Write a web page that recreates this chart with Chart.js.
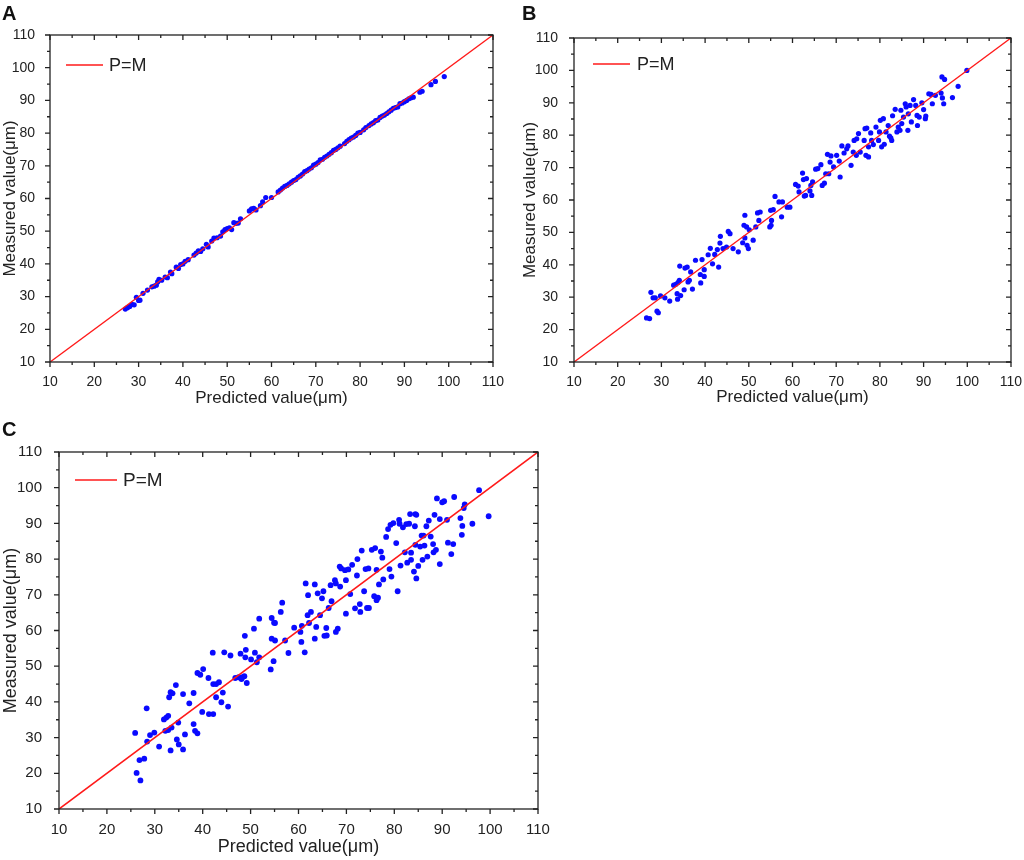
<!DOCTYPE html>
<html>
<head>
<meta charset="utf-8">
<script src="https://cdn.jsdelivr.net/npm/chart.js@4.4.1/dist/chart.umd.min.js"></script>
<style>
  html, body { margin: 0; padding: 0; background: #fff; }
  #wrap { position: relative; width: 1024px; height: 860px; overflow: hidden; }
  canvas { position: absolute; left: 0; top: 0; }
  .tag { position: absolute; font: bold 20px "Liberation Sans", Arial, sans-serif; line-height: 1; color: #111; }
</style>
</head>
<body>
<div id="wrap">
  <canvas id="chartA"></canvas>
  <canvas id="chartB"></canvas>
  <canvas id="chartC"></canvas>
  <div class="tag" style="left:2px;top:3px">A</div>
  <div class="tag" style="left:522px;top:3px">B</div>
  <div class="tag" style="left:2px;top:419px">C</div>
</div>
<script>
// shared axis ticks and the P=M reference line
const tickValues = [10, 20, 30, 40, 50, 60, 70, 80, 90, 100, 110];
const refLineX = [10, 110];
const refLineY = [10, 110];

// panel A
const predictedA = [27.0, 27.5, 28.0, 28.5, 29.0, 29.5, 30.0, 30.3, 31.0, 32.0, 33.0, 33.5, 34.0, 34.3, 34.6, 35.2, 36.0, 36.5, 37.2, 37.5,
  38.5, 39.0, 39.5, 40.0, 40.5, 41.2, 42.5, 43.0, 43.5, 44.0, 44.5, 45.3, 45.7, 46.5, 47.0, 47.7, 48.5, 49.0, 49.5, 50.0,
  50.5, 51.0, 51.5, 52.0, 52.5, 53.0, 55.0, 55.5, 56.0, 56.5, 57.5, 58.0, 58.7, 60.0, 61.5, 62.0, 62.5, 63.0, 63.5, 64.0,
  64.5, 65.0, 65.5, 66.0, 66.5, 67.0, 67.5, 68.0, 68.5, 69.0, 69.5, 70.0, 70.5, 71.0, 71.5, 72.0, 72.5, 73.0, 73.5, 74.0,
  74.5, 75.0, 75.5, 76.5, 77.0, 77.5, 78.0, 78.5, 79.0, 79.5, 80.0, 80.8, 81.3, 82.0, 82.5, 83.0, 83.5, 84.0, 84.5, 85.0,
  85.5, 86.0, 86.5, 87.0, 87.5, 88.0, 88.5, 89.0, 89.5, 90.0, 90.5, 91.0, 91.5, 92.0, 93.5, 94.0, 96.0, 97.0, 99.0];
const measuredA = [26.2, 26.6, 27.0, 27.6, 27.5, 29.8, 28.8, 28.9, 31.0, 32.0, 33.0, 33.2, 33.5, 34.5, 35.3, 35.0, 36.0, 35.8, 37.5, 37.0,
  39.0, 38.6, 39.8, 40.0, 40.8, 41.3, 42.7, 43.3, 44.0, 43.8, 44.6, 46.0, 45.2, 47.0, 47.9, 48.0, 48.5, 49.8, 50.5, 50.8,
  51.0, 50.5, 52.6, 52.4, 52.5, 53.8, 56.2, 56.8, 57.0, 56.5, 57.8, 59.0, 60.3, 60.3, 62.0, 62.6, 63.2, 63.7, 64.0, 64.5,
  65.0, 65.5, 65.8, 66.5, 66.9, 67.5, 68.2, 68.5, 69.0, 69.4, 70.2, 70.5, 71.0, 71.8, 72.0, 72.6, 73.0, 73.5, 74.0, 74.7,
  75.0, 75.5, 76.0, 76.8, 77.5, 78.0, 78.5, 78.8, 79.3, 80.0, 80.2, 81.0, 81.7, 82.3, 82.8, 83.2, 83.8, 84.0, 84.8, 85.2,
  85.5, 86.0, 86.5, 87.0, 87.6, 87.8, 88.0, 89.0, 89.2, 89.6, 90.0, 90.5, 90.8, 91.0, 92.5, 92.8, 94.8, 95.8, 97.3];

// panel B
const predictedB = [26.6, 27.3, 27.6, 28.1, 28.6, 29.0, 29.3, 29.8, 30.8, 31.9, 32.8, 33.3, 33.6, 33.7, 34.1, 33.8, 34.2, 34.4, 35.2, 35.4,
  35.9, 36.1, 36.4, 36.7, 37.1, 37.8, 38.9, 39.0, 39.3, 39.8, 39.8, 40.7, 41.2, 41.7, 42.2, 42.8, 43.1, 43.4, 43.5, 44.1,
  44.9, 45.3, 45.7, 46.4, 47.6, 48.6, 48.9, 49.1, 49.1, 49.5, 49.6, 49.9, 50.1, 51.0, 51.6, 52.0, 52.6, 52.3, 54.8, 55.1,
  55.0, 55.6, 55.2, 56.0, 56.9, 57.7, 57.5, 58.8, 59.4, 60.7, 61.3, 61.5, 62.3, 62.5, 62.7, 63.0, 63.2, 64.0, 64.2, 64.4,
  64.6, 65.3, 65.8, 66.5, 66.8, 67.3, 67.6, 68.0, 68.6, 68.8, 68.3, 69.4, 70.1, 70.7, 70.9, 71.3, 71.8, 72.4, 72.7, 73.4,
  73.9, 74.1, 74.7, 74.6, 75.1, 75.5, 76.4, 76.6, 77.0, 76.8, 77.4, 77.4, 77.9, 78.1, 78.5, 79.1, 79.7, 80.1, 79.9, 80.4,
  80.8, 81.0, 81.4, 81.9, 82.2, 82.5, 82.7, 82.9, 83.5, 83.9, 84.2, 84.6, 84.8, 85.0, 85.4, 85.8, 86.0, 86.4, 86.5, 86.9,
  87.2, 87.7, 88.2, 88.6, 88.5, 89.0, 89.6, 90.0, 90.4, 90.5, 91.2, 91.7, 92.0, 92.7, 94.0, 94.2, 94.8, 94.3, 94.6, 96.6,
  97.9, 99.9];
const measuredB = [23.6, 23.4, 31.5, 29.8, 29.8, 25.7, 25.2, 30.4, 29.8, 28.8, 33.7, 34.0, 31.1, 29.4, 35.2, 34.5, 39.6, 30.5, 32.3, 39.0,
  39.3, 34.7, 35.2, 37.8, 32.5, 41.4, 37.0, 34.4, 41.6, 38.5, 36.4, 43.1, 45.1, 40.3, 43.2, 44.7, 39.3, 46.7, 48.8, 45.0,
  45.5, 50.3, 49.6, 45.0, 44.0, 46.8, 52.2, 55.3, 48.3, 51.7, 46.0, 45.0, 50.8, 47.6, 51.7, 56.0, 56.3, 53.7, 51.7, 52.2,
  56.8, 57.0, 53.7, 61.1, 59.4, 59.4, 54.8, 57.8, 57.8, 64.8, 64.3, 62.5, 68.3, 66.3, 61.2, 61.4, 66.6, 62.8, 64.5, 61.4,
  65.6, 69.5, 69.7, 70.9, 64.5, 65.2, 68.1, 74.1, 71.7, 73.6, 68.1, 70.2, 73.8, 72.0, 67.1, 76.7, 74.5, 75.8, 76.7, 70.7,
  74.8, 78.4, 78.9, 73.8, 80.5, 74.8, 78.4, 82.0, 82.2, 73.8, 73.3, 76.4, 80.7, 78.4, 77.1, 82.5, 78.4, 84.6, 81.0, 76.4,
  85.1, 77.2, 81.0, 83.0, 79.7, 79.2, 78.4, 86.0, 88.0, 81.0, 82.5, 81.5, 87.7, 83.6, 85.6, 89.7, 88.7, 81.5, 86.6, 89.2,
  84.1, 91.0, 89.2, 83.0, 86.1, 85.6, 90.0, 87.9, 85.1, 85.9, 92.8, 92.6, 89.7, 92.3, 93.0, 98.0, 97.2, 91.5, 89.7, 91.6,
  95.1, 100.0];

// panel C
const predictedC = [25.9, 26.2, 26.8, 27.0, 27.8, 28.3, 28.4, 29.0, 29.9, 30.9, 31.9, 32.4, 32.8, 32.2, 32.8, 33.0, 33.3, 33.7, 33.3, 33.5,
  34.4, 34.6, 34.9, 35.0, 35.9, 35.9, 36.3, 37.2, 38.1, 38.1, 38.4, 38.9, 38.9, 39.5, 39.9, 40.1, 41.2, 41.3, 42.1, 42.2,
  42.2, 42.8, 42.8, 43.4, 43.9, 44.2, 44.5, 45.3, 45.8, 46.8, 47.5, 47.9, 48.3, 48.7, 48.1, 48.8, 48.9, 49.0, 49.2, 50.1,
  50.7, 50.9, 51.3, 51.8, 51.8, 54.2, 54.4, 54.4, 54.8, 54.9, 55.1, 55.1, 56.3, 56.6, 57.2, 57.9, 59.1, 60.4, 60.6, 60.7,
  61.3, 61.5, 61.9, 62.0, 62.2, 62.6, 63.4, 63.4, 63.7, 64.0, 64.5, 64.9, 65.2, 65.4, 65.8, 65.9, 66.3, 66.7, 66.9, 67.6,
  67.8, 67.8, 68.2, 68.6, 68.9, 68.7, 69.7, 69.9, 69.9, 70.4, 70.8, 71.2, 71.8, 72.2, 72.3, 72.8, 72.9, 73.2, 73.7, 74.0,
  74.3, 74.6, 74.7, 75.3, 75.8, 76.0, 76.3, 76.3, 76.6, 76.8, 77.2, 77.5, 77.7, 78.3, 78.7, 79.0, 79.2, 79.4, 79.8, 80.4,
  80.7, 81.0, 81.1, 81.3, 81.8, 82.2, 82.5, 82.7, 83.1, 83.3, 83.5, 83.5, 84.1, 84.3, 84.4, 84.6, 84.4, 84.6, 85.0, 85.4,
  85.7, 86.1, 85.9, 86.3, 86.7, 86.9, 87.2, 87.6, 88.1, 88.2, 88.4, 88.7, 88.9, 89.5, 89.5, 90.0, 90.4, 91.0, 91.2, 91.9,
  92.3, 92.5, 93.8, 94.1, 94.2, 94.5, 94.7, 96.3, 97.7, 99.7];
const measuredC = [31.3, 20.1, 23.7, 18.0, 24.1, 38.2, 28.9, 30.7, 31.4, 27.5, 35.1, 35.6, 36.1, 31.9, 32.1, 41.3, 42.7, 42.4, 26.4, 32.8,
  44.7, 29.5, 34.2, 28.1, 26.7, 42.2, 30.9, 39.6, 42.5, 33.8, 31.9, 31.2, 48.1, 47.6, 37.2, 49.2, 46.7, 36.6, 53.8, 36.6,
  45.0, 41.3, 45.0, 45.5, 39.9, 42.6, 53.9, 38.7, 53.0, 46.7, 46.9, 53.5, 46.9, 47.2, 46.4, 58.5, 52.5, 54.6, 45.3, 51.9,
  60.5, 53.8, 51.1, 52.5, 63.3, 49.1, 63.5, 57.7, 51.4, 62.2, 62.1, 57.2, 65.2, 67.8, 57.2, 53.7, 60.8, 59.6, 56.8, 61.3,
  53.9, 73.2, 64.3, 69.9, 62.1, 65.2, 72.9, 57.7, 61.0, 70.4, 64.3, 69.0, 71.0, 58.5, 60.7, 58.6, 66.3, 72.7, 68.2, 74.1,
  73.2, 59.6, 60.5, 77.9, 77.4, 72.3, 76.9, 74.1, 64.7, 77.1, 70.2, 78.4, 66.2, 75.4, 80.0, 67.4, 65.2, 82.4, 71.0, 77.2,
  66.3, 77.4, 66.3, 82.6, 69.6, 83.1, 68.5, 77.0, 69.2, 72.9, 82.1, 80.4, 74.3, 86.2, 88.4, 77.2, 89.6, 75.1, 90.1, 84.5,
  71.0, 91.0, 89.9, 78.2, 88.9, 81.9, 89.8, 79.0, 89.9, 92.6, 81.8, 79.8, 76.5, 89.2, 92.6, 92.4, 84.0, 74.6, 78.1, 83.5,
  86.6, 86.6, 79.8, 83.8, 89.2, 80.7, 90.8, 86.3, 84.2, 81.9, 92.4, 82.6, 97.0, 91.2, 78.6, 95.9, 96.2, 91.0, 84.6, 81.4,
  84.2, 97.4, 91.5, 86.8, 89.3, 94.3, 95.3, 89.9, 99.3, 92.0];

const FONT = '"Liberation Sans", Arial, sans-serif';
const INK = '#222';
const RED = '#ff1a1a';
const BLUE = '#0a0aff';

// box with ticks: left/bottom point out, top/right point in (Origin style)
const framePlugin = {
  id: 'frame',
  afterDraw(chart) {
    const ctx = chart.ctx;
    const a = chart.chartArea;
    const xs = chart.scales.x, ys = chart.scales.y;
    const major = 5, minor = 3;
    ctx.save();
    ctx.strokeStyle = INK;
    ctx.lineWidth = 1.3;
    ctx.strokeRect(a.left, a.top, a.right - a.left, a.bottom - a.top);
    ctx.beginPath();
    for (let i = 0; i < tickValues.length; i++) {
      const vals = [[tickValues[i], major]];
      if (i < tickValues.length - 1) vals.push([(tickValues[i] + tickValues[i + 1]) / 2, minor]);
      vals.forEach(([v, len]) => {
        const px = xs.getPixelForValue(v);
        ctx.moveTo(px, a.bottom); ctx.lineTo(px, a.bottom + len);
        ctx.moveTo(px, a.top); ctx.lineTo(px, a.top + len);
        const py = ys.getPixelForValue(v);
        ctx.moveTo(a.left, py); ctx.lineTo(a.left - len, py);
        ctx.moveTo(a.right, py); ctx.lineTo(a.right - len, py);
      });
    }
    ctx.stroke();
    ctx.restore();
  }
};

// legend drawn inside the plot, top left
const legendPlugin = {
  id: 'innerLegend',
  afterDraw(chart, args, opts) {
    const ctx = chart.ctx;
    const a = chart.chartArea;
    const ds = chart.data.datasets[0];
    const y = a.top + opts.dy;
    ctx.save();
    ctx.strokeStyle = ds.borderColor;
    ctx.lineWidth = ds.borderWidth;
    ctx.beginPath();
    ctx.moveTo(a.left + opts.x0, y);
    ctx.lineTo(a.left + opts.x1, y);
    ctx.stroke();
    ctx.fillStyle = INK;
    ctx.font = opts.size + 'px ' + FONT;
    ctx.textBaseline = 'middle';
    ctx.fillText(ds.label, a.left + opts.tx, y + 1);
    ctx.restore();
  }
};

function makePanel(id, p) {
  const canvas = document.getElementById(id);
  canvas.width = 1024; canvas.height = 860;
  canvas.style.width = '1024px'; canvas.style.height = '860px';
  return new Chart(canvas, {
    type: 'scatter',
    data: {
      datasets: [
        {
          label: 'P=M',
          data: refLineX.map((v, i) => ({ x: v, y: refLineY[i] })),
          showLine: true,
          borderColor: RED,
          borderWidth: p.lineW,
          pointRadius: 0,
          order: 0
        },
        {
          label: 'samples',
          data: p.x.map((v, i) => ({ x: v, y: p.y[i] })),
          backgroundColor: BLUE,
          borderWidth: 0,
          pointRadius: p.r,
          order: 1
        }
      ]
    },
    options: {
      responsive: false,
      animation: false,
      devicePixelRatio: 1,
      layout: { padding: p.pad },
      plugins: {
        legend: { display: false },
        tooltip: { enabled: false },
        innerLegend: p.legend
      },
      scales: {
        x: {
          type: 'linear', min: 10, max: 110,
          afterBuildTicks: s => { s.ticks = tickValues.map(v => ({ value: v })); },
          afterFit: s => { s.height = p.xH; s.paddingLeft = 0; s.paddingRight = 0; },
          grid: { display: false },
          border: { display: false },
          ticks: { color: INK, font: { family: FONT, size: p.tick }, padding: p.xPad, maxRotation: 0, autoSkip: false },
          title: { display: true, text: 'Predicted value(μm)', color: INK, font: { family: FONT, size: p.title }, padding: 0 }
        },
        y: {
          type: 'linear', min: 10, max: 110,
          afterBuildTicks: s => { s.ticks = tickValues.map(v => ({ value: v })); },
          afterFit: s => { s.width = p.yW; s.paddingTop = 0; s.paddingBottom = 0; },
          grid: { display: false },
          border: { display: false },
          ticks: { color: INK, font: { family: FONT, size: p.tick }, padding: p.yPad, autoSkip: false },
          title: { display: true, text: 'Measured value(μm)', color: INK, font: { family: FONT, size: p.title }, padding: 0 }
        }
      }
    },
    plugins: [framePlugin, legendPlugin]
  });
}

makePanel('chartA', {
  x: predictedA, y: measuredA, r: 2.6, lineW: 1.4, tick: 14, title: 17,
  pad: { left: 0, top: 35, right: 531, bottom: 451 }, yW: 50, xH: 47, xPad: 4, yPad: 7,
  legend: { x0: 16, x1: 53, tx: 59, dy: 30, size: 18 }
});
makePanel('chartB', {
  x: predictedB, y: measuredB, r: 2.6, lineW: 1.4, tick: 14, title: 17,
  pad: { left: 520, top: 38, right: 13, bottom: 452 }, yW: 54, xH: 46, xPad: 4, yPad: 8,
  legend: { x0: 19, x1: 56, tx: 63, dy: 26, size: 18 }
});
makePanel('chartC', {
  x: predictedC, y: measuredC, r: 2.9, lineW: 1.6, tick: 15, title: 18,
  pad: { left: 0, top: 452, right: 486, bottom: 2 }, yW: 59, xH: 49, xPad: 4, yPad: 9,
  legend: { x0: 16, x1: 58, tx: 64, dy: 28, size: 19 }
});
</script>
</body>
</html>
